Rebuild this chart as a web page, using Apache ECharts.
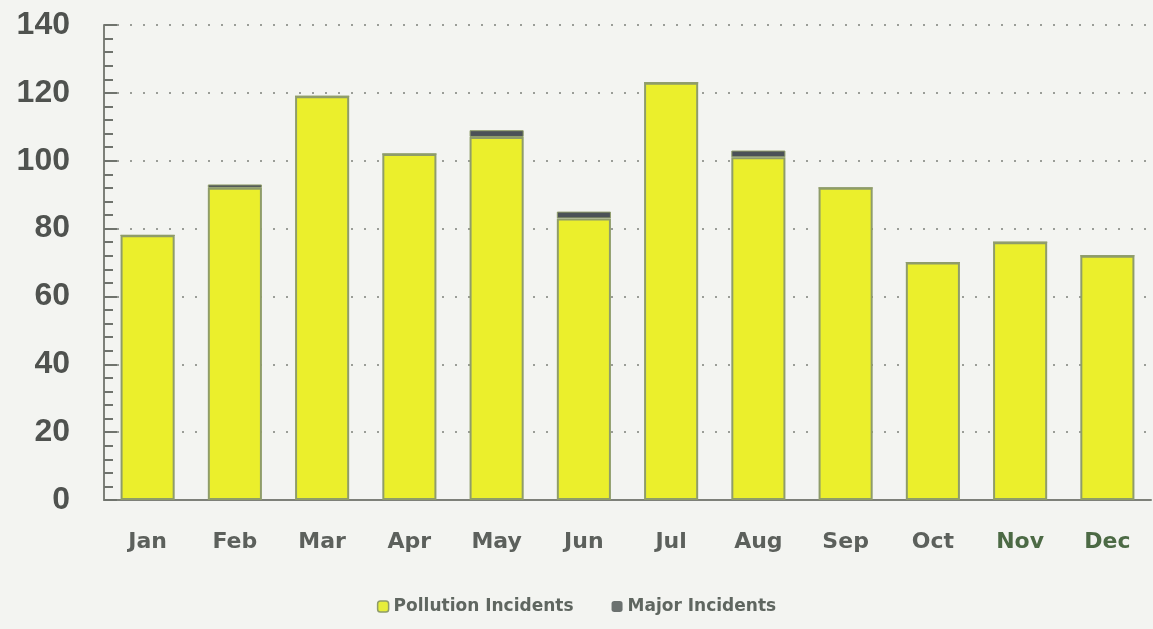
<!DOCTYPE html>
<html>
<head>
<meta charset="utf-8">
<script src="https://cdn.jsdelivr.net/npm/echarts@6/dist/echarts.min.js"></script>
<style>
html,body{margin:0;padding:0;background:#f3f4f1;}
#main{width:1153px;height:629px;}
</style>
</head>
<body>
<div id="main"></div>
<script>
// data
var months = ['Jan', 'Feb', 'Mar', 'Apr', 'May', 'Jun', 'Jul', 'Aug', 'Sep', 'Oct', 'Nov', 'Dec'];
var pollution = [78, 92, 119, 102, 107, 83, 123, 101, 92, 70, 76, 72];
var major = [0, 1, 0, 0, 2, 2, 0, 2, 0, 0, 0, 0];
var yTicks = [0, 20, 40, 60, 80, 100, 120, 140];

var chart = echarts.init(document.getElementById('main'));

var option = {
	backgroundColor: '#f3f4f1',
	animation: false,
	grid: {
		left: 104,
		right: 2,
		top: 25,
		bottom: 129
	},
	legend: {
		bottom: 9,
		left: 'center',
		itemWidth: 11,
		itemHeight: 11,
		itemGap: 38,
		textStyle: {
			color: '#5f6660',
			fontSize: 17,
			fontWeight: 'bold',
			fontFamily: 'DejaVu Sans, sans-serif'
		},
		data: [
			{ name: 'Pollution Incidents', itemStyle: { color: '#e6ee3a', borderColor: '#8f9c6a', borderWidth: 1.5 } },
			{ name: 'Major Incidents', itemStyle: { color: '#6b716f', borderWidth: 0 } }
		]
	},
	xAxis: {
		type: 'category',
		data: months,
		axisLine: { lineStyle: { color: '#7d8079', width: 2 } },
		axisTick: { show: false },
		axisLabel: {
			margin: 31,
			fontSize: 22,
			fontWeight: 'bold',
			fontFamily: 'DejaVu Sans, sans-serif',
			color: function (v, i) {
				return i >= 10 ? '#4c6a45' : '#5c605c';
			}
		}
	},
	yAxis: {
		type: 'value',
		min: yTicks[0],
		max: yTicks[yTicks.length - 1],
		interval: 20,
		axisLine: { show: true, lineStyle: { color: '#7d8079', width: 2 } },
		axisTick: { show: true, inside: true, length: 13, lineStyle: { color: '#6f736d', width: 2 } },
		minorTick: { show: true, splitNumber: 5, length: 9, lineStyle: { color: '#6f736d', width: 2 } },
		axisLabel: {
			margin: 34,
			fontSize: 32,
			fontWeight: 'bold',
			fontFamily: 'Liberation Sans, Arial, sans-serif',
			color: '#4f524f'
		},
		splitLine: {
			show: true,
			lineStyle: { color: '#9a9d98', width: 2, type: [2, 11] }
		}
	},
	series: [
		{
			name: 'Pollution Incidents',
			type: 'bar',
			stack: 'total',
			barWidth: '62%',
			data: pollution,
			itemStyle: {
				color: '#ebef2c',
				borderColor: '#8f9c6a',
				borderWidth: 2
			}
		},
		{
			name: 'Major Incidents',
			type: 'bar',
			stack: 'total',
			barWidth: '62%',
			data: major,
			itemStyle: {
				color: '#4b5157',
				borderColor: '#8f9c6a',
				borderWidth: 1
			}
		}
	]
};

chart.setOption(option);
</script>
</body>
</html>
